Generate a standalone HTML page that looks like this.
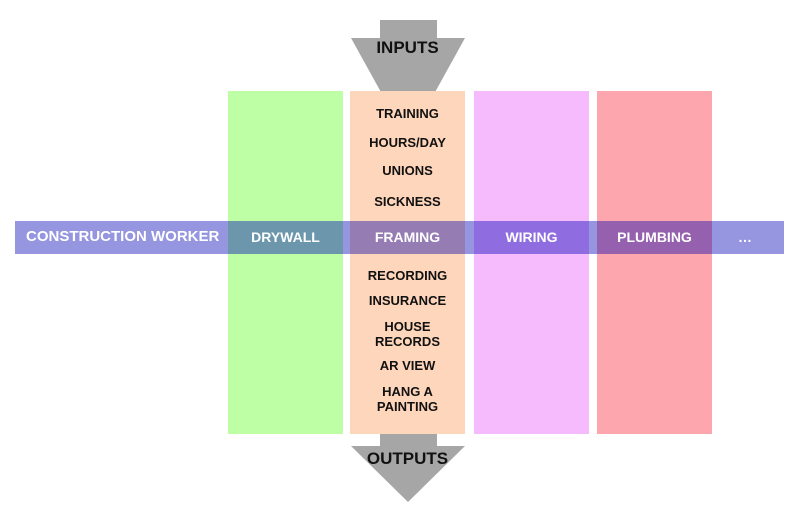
<!DOCTYPE html>
<html><head><meta charset="utf-8"><style>
body{margin:0;width:800px;height:524px;background:#fff;position:relative;overflow:hidden;font-family:"Liberation Sans Narrow","Liberation Sans",sans-serif;font-weight:bold}
.c{position:absolute;top:91px;height:343px;width:115px}
.t{position:absolute;left:350px;width:115px;text-align:center;font-size:13px;line-height:15px;color:#111}
.b{position:absolute;top:221px;height:33px;line-height:33px;color:#fff;font-size:14px;text-align:center}
</style></head><body>
<svg width="800" height="524" style="position:absolute;left:0;top:0">
<polygon points="380,20 437,20 437,38 465,38 408,141 351,38 380,38" fill="#a6a6a6"/>
<polygon points="380,434 437,434 437,446 465,446 408,502 351,446 380,446" fill="#a6a6a6"/>
</svg>
<div class="c" style="left:228px;background:#befea5"></div>
<div class="c" style="left:350px;background:#fed6bb"></div>
<div class="c" style="left:474px;background:#f5bbfd"></div>
<div class="c" style="left:597px;background:#fea6ae"></div>
<div class="b" style="left:15px;width:769px;background:#9595e0"></div>
<div class="b" style="left:228px;width:115px;background:#6b96ab">DRYWALL</div>
<div class="b" style="left:350px;width:115px;background:#957db4">FRAMING</div>
<div class="b" style="left:474px;width:115px;background:#8f6de0">WIRING</div>
<div class="b" style="left:597px;width:115px;background:#9560ae">PLUMBING</div>
<div class="b" style="left:720px;width:50px">…</div>
<div class="b" style="left:26px;width:200px;text-align:left;font-size:15px;line-height:31px">CONSTRUCTION WORKER</div>
<div class="t" style="top:40px;font-size:17px">INPUTS</div>
<div class="t" style="top:106px">TRAINING</div>
<div class="t" style="top:135px">HOURS/DAY</div>
<div class="t" style="top:163px">UNIONS</div>
<div class="t" style="top:194px">SICKNESS</div>
<div class="t" style="top:268px">RECORDING</div>
<div class="t" style="top:293px">INSURANCE</div>
<div class="t" style="top:319px">HOUSE<br>RECORDS</div>
<div class="t" style="top:358px">AR VIEW</div>
<div class="t" style="top:384px">HANG A<br>PAINTING</div>
<div class="t" style="top:451px;font-size:17px">OUTPUTS</div>
</body></html>
